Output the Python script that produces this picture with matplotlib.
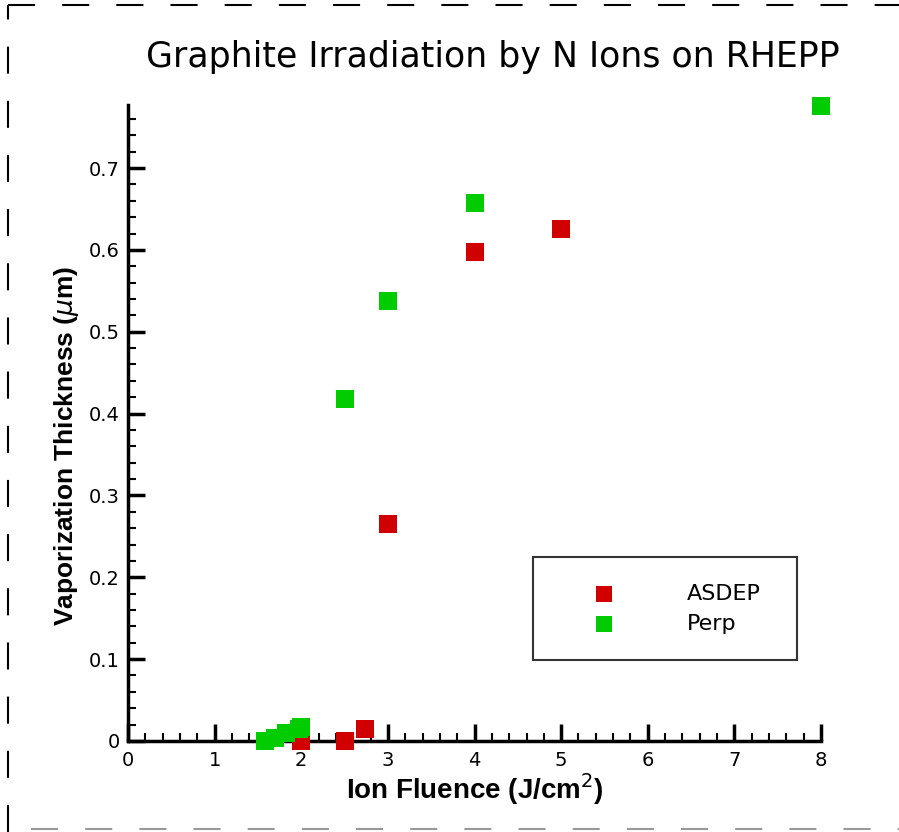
import matplotlib
matplotlib.use("Agg")
import matplotlib.pyplot as plt
from matplotlib.lines import Line2D
from matplotlib.ticker import MultipleLocator

# Vaporization thickness vs ion fluence
asdep_x = [2.0, 2.5, 2.73, 3.0, 4.0, 5.0]
asdep_y = [0.0, 0.0, 0.015, 0.265, 0.597, 0.626]
perp_x = [1.58, 1.70, 1.82, 1.97, 2.0, 2.5, 3.0, 4.0, 8.0]
perp_y = [0.0, 0.004, 0.010, 0.015, 0.017, 0.418, 0.538, 0.657, 0.776]

plt.rcParams['font.family'] = ['DejaVu Sans']
bold_font = ['Liberation Sans', 'DejaVu Sans']

fig = plt.figure(figsize=(8.99, 8.32), dpi=100)
ax = fig.add_axes([0.1424, 0.1094, 0.7709, 0.7644])

ax.scatter(asdep_x, asdep_y, marker='s', s=150, color='#d00000', label='ASDEP',
           clip_on=False, zorder=3, linewidths=0)
ax.scatter(perp_x, perp_y, marker='s', s=150, color='#00cc00', label='Perp',
           clip_on=False, zorder=3, linewidths=0)

ax.set_xlim(0, 8)
ax.set_ylim(0, 0.777)
ax.spines['top'].set_visible(False)
ax.spines['right'].set_visible(False)
ax.spines['left'].set_linewidth(2.5)
ax.spines['bottom'].set_linewidth(2.5)

ax.xaxis.set_major_locator(MultipleLocator(1))
ax.xaxis.set_minor_locator(MultipleLocator(0.2))
ax.yaxis.set_major_locator(MultipleLocator(0.1))
ax.yaxis.set_minor_locator(MultipleLocator(0.02))
ax.tick_params(which='major', direction='in', length=12, width=2.5, labelsize=14)
ax.tick_params(axis='y', which='major', pad=6)
ax.tick_params(axis='x', which='major', pad=7)
ax.tick_params(which='minor', direction='in', length=6, width=1.5)
ax.set_yticks([0, 0.1, 0.2, 0.3, 0.4, 0.5, 0.6, 0.7])
ax.set_yticklabels(['0', '0.1', '0.2', '0.3', '0.4', '0.5', '0.6', '0.7'])

ax.set_xlabel('Ion Fluence (J/cm$^2$)', fontsize=20, fontweight='bold',
              family=bold_font)
ax.set_ylabel('Vaporization Thickness ($\\mu$m)', fontsize=19, fontweight='bold',
              family=bold_font)
ax.yaxis.set_label_coords(-0.068, 0.464)
ax.xaxis.set_label_coords(0.5, -0.048)

fig.text(0.548, 0.932, 'Graphite Irradiation by N Ions on RHEPP', fontsize=25,
         ha='center', va='center')

leg = ax.legend(loc='lower left', bbox_to_anchor=(0.584, 0.127, 0.381, 0.165),
                mode='expand', borderaxespad=0, frameon=True, fancybox=False,
                fontsize=16, handletextpad=1.7, borderpad=1.2, labelspacing=0.45,
                markerscale=0.9, handlelength=4.05)
leg.get_frame().set_edgecolor('black')
leg.get_frame().set_linewidth(1.5)

# dashed page border
dash = dict(color='black', linestyle=(0, (13, 13)), linewidth=1.5)
fig.add_artist(Line2D([0.009, 1.0], [0.994, 0.994], transform=fig.transFigure, **dash))
fig.add_artist(Line2D([0.009, 0.009], [0.0, 0.994], transform=fig.transFigure, **dash))
fig.add_artist(Line2D([0.035, 1.0], [0.004, 0.004], transform=fig.transFigure,
                      color='#999999', linestyle=(0, (13, 13)), linewidth=1.5))

fig.savefig('out.png', dpi=100)
